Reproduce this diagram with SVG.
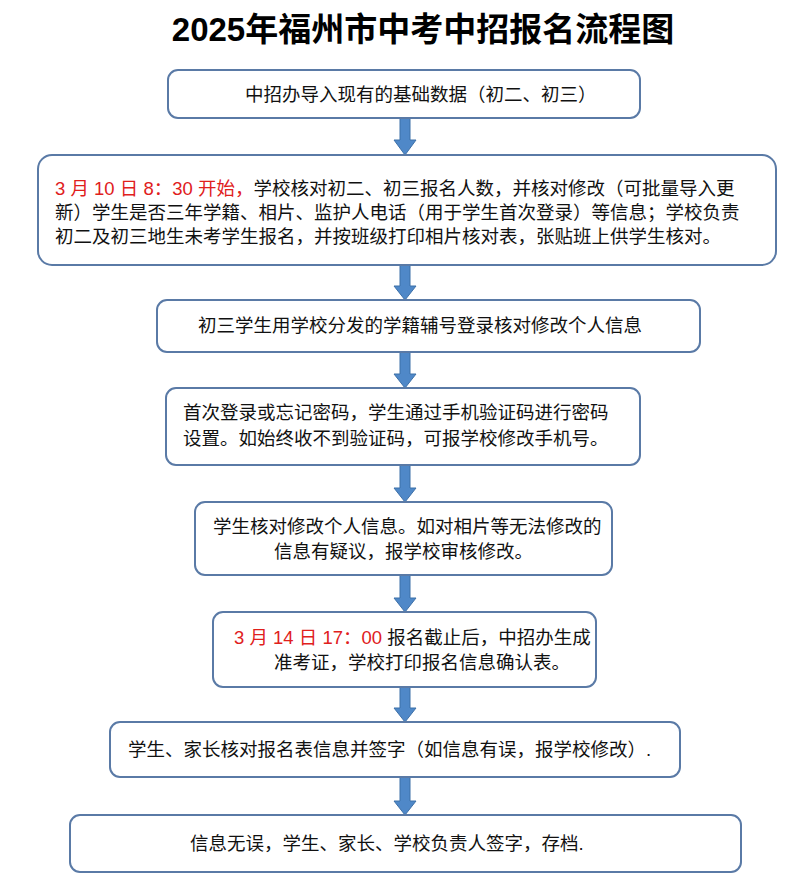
<svg xmlns="http://www.w3.org/2000/svg" width="800" height="884" viewBox="0 0 800 884">
<defs><style>
.b{fill:#fff;stroke:#5a7aa6;stroke-width:2}
.t{font-family:"Liberation Sans","Noto Sans CJK SC",sans-serif;font-size:18.5px;fill:#111}
.r{fill:#e0201c}
.a{fill:#4f88c8;stroke:#3d70a8;stroke-width:1}
.h{font-family:"Liberation Sans","Noto Sans CJK SC",sans-serif;font-size:33px;font-weight:bold;fill:#000}
</style></defs>
<rect width="800" height="884" fill="#fff"/>
<text class="h" x="423" y="41" text-anchor="middle">2025年福州市中考中招报名流程图</text>
<g id="connectors">
<polygon class="a" points="400,118 410,118 410,140 416,140 405,155 394,140 400,140"/>
<polygon class="a" points="400,265 410,265 410,286 416,286 405,300 394,286 400,286"/>
<polygon class="a" points="400,352 410,352 410,374 416,374 405,388 394,374 400,374"/>
<polygon class="a" points="400,465 410,465 410,488 416,488 405,502 394,488 400,488"/>
<polygon class="a" points="400,575 410,575 410,598 416,598 405,612 394,598 400,598"/>
<polygon class="a" points="400,687 410,687 410,708 416,708 405,722 394,708 400,708"/>
<polygon class="a" points="400,777 410,777 410,801 416,801 405,815 394,801 400,801"/>
</g>
<g id="n1"><rect class="b" x="168" y="70" width="472" height="48" rx="10"/>
<text class="t" x="245" y="101">中招办导入现有的基础数据（初二、初三）</text></g>
<g id="n2"><rect class="b" x="38" y="155" width="738" height="110" rx="14"/>
<text class="t" x="55" y="195"><tspan class="r">3 月 10 日 8：30 开始，</tspan>学校核对初二、初三报名人数，并核对修改（可批量导入更</text>
<text class="t" x="55" y="219">新）学生是否三年学籍、相片、监护人电话（用于学生首次登录）等信息；学校负责</text>
<text class="t" x="55" y="243">初二及初三地生未考学生报名，并按班级打印相片核对表，张贴班上供学生核对。</text></g>
<g id="n3"><rect class="b" x="157" y="300" width="543" height="52" rx="10"/>
<text class="t" x="198" y="332">初三学生用学校分发的学籍辅号登录核对修改个人信息</text></g>
<g id="n4"><rect class="b" x="166" y="388" width="474" height="77" rx="10"/>
<text class="t" x="183" y="419">首次登录或忘记密码，学生通过手机验证码进行密码</text>
<text class="t" x="183" y="445">设置。如始终收不到验证码，可报学校修改手机号。</text></g>
<g id="n5"><rect class="b" x="195" y="502" width="417" height="73" rx="10"/>
<text class="t" x="213" y="533">学生核对修改个人信息。如对相片等无法修改的</text>
<text class="t" x="274" y="558">信息有疑议，报学校审核修改。</text></g>
<g id="n6"><rect class="b" x="213" y="612" width="383" height="75" rx="10"/>
<text class="t" x="234" y="644"><tspan class="r">3 月 14 日 17：00</tspan> 报名截止后，中招办生成</text>
<text class="t" x="274" y="669">准考证，学校打印报名信息确认表。</text></g>
<g id="n7"><rect class="b" x="110" y="722" width="570" height="55" rx="10"/>
<text class="t" x="128" y="756">学生、家长核对报名表信息并签字（如信息有误，报学校修改）.</text></g>
<g id="n8"><rect class="b" x="70" y="815" width="671" height="57" rx="10"/>
<text class="t" x="190" y="850">信息无误，学生、家长、学校负责人签字，存档.</text></g>
</svg>
